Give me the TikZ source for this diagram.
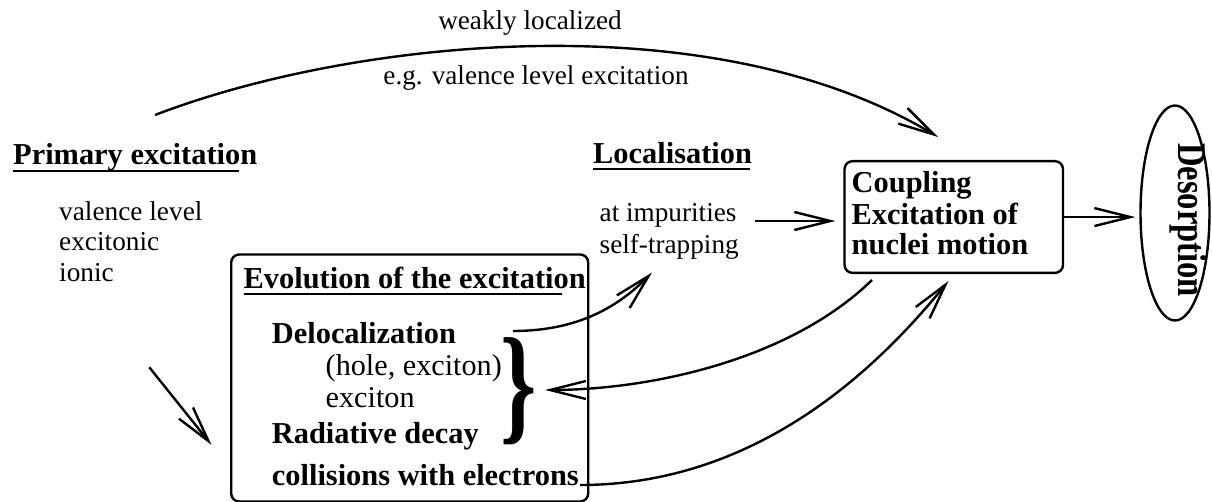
\documentclass[tikz,border=0pt]{standalone}
\usepackage{fontspec}
\setmainfont{Liberation Serif}
\usetikzlibrary{arrows.meta,shapes.geometric}
\newcommand\szH{\fontsize{30.4}{36}\selectfont}
\newcommand\szR{\fontsize{30.2}{36}\selectfont}
\newcommand\szP{\fontsize{27.3}{33}\selectfont}
\newcommand\szL{\fontsize{27.2}{33}\selectfont}
\begin{document}
\begin{tikzpicture}[x=1pt,y=-1pt,
  txt/.style={inner sep=0pt, anchor=base west},
  ctxt/.style={inner sep=0pt, anchor=base},
  uline/.style={line width=1.6pt},
  box/.style={draw, line width=2.4pt, rounded corners=8pt, inner sep=0pt},
  arr/.style={line width=2.4pt, -{Straight Barb[length=36pt,width=18pt]}}]
\useasboundingbox (0,0) rectangle (1212,502);

% texts
\node[txt,font=\szH\bfseries] (prim) at (13,164.5) {Primary excitation};
\draw[uline] ([yshift=-6.5pt]prim.base west) -- ++(226,0);
\node[txt,font=\szP] (pv) at (59,220.5) {valence level};
\node[txt,font=\szP] (pe) at (59,251) {excitonic};
\node[txt,font=\szP] (pi) at (59,282) {ionic};

\node[ctxt,font=\szL] (wl) at (530,30) {weakly localized};
\node[ctxt,font=\szL] (eg) at (536,85) {e.g. valence level excitation};

\node[txt,font=\szH\bfseries] (loc) at (593,164) {Localisation};
\draw[uline] ([yshift=-5pt]loc.base west) -- ++(157,0);
\node[txt,font=\szL] (imp) at (599.5,221.7) {at impurities};
\node[txt,font=\szL] (st) at (599.5,253.3) {self-trapping};

% evolution box
\node[box, minimum width=357pt, minimum height=247pt, anchor=north west] (evo) at (230,253.3) {};
\node[txt,font=\szH\bfseries] (evt) at (243.5,288.5) {Evolution of the excitation};
\draw[uline] ([yshift=-5.5pt]evt.base west) -- ++(318,0);
\node[txt,font=\szH\bfseries] (deloc) at (271.7,343.3) {Delocalization};
\node[txt,font=\szR] (hole) at (325.5,375) {(hole, exciton)};
\node[txt,font=\szR] (exc) at (325.5,407) {exciton};
\node[txt,font=\szH\bfseries] (rad) at (271.7,443.3) {Radiative decay};
\node[txt,font=\szH\bfseries] (coll) at (271.7,485) {collisions with electrons};
\node[inner sep=0pt] (brace) at (519,391) {\scalebox{1.15}[1.62]{\fontsize{80}{80}\selectfont\bfseries\}}};

% coupling box
\node[box, minimum width=218.5pt, minimum height=111.7pt, anchor=north west] (coup) at (843.3,160) {};
\node[txt,font=\szH\bfseries] (c1) at (851.5,192.3) {Coupling};
\node[txt,font=\szH\bfseries] (c2) at (851.5,225) {Excitation of};
\node[txt,font=\szH\bfseries] (c3) at (851.5,254.3) {nuclei motion};

% desorption
\node[draw, ellipse, line width=2.4pt, minimum width=69pt, minimum height=215pt, inner sep=0pt] (deso) at (1175,213) {};
\node[rotate=-90, inner sep=0pt] (desot) at (1188.5,220) {\scalebox{1}[1.25]{\fontsize{32.6}{34}\selectfont\bfseries Desorption}};

% connectors
\coordinate (arcS) at (155,115);
\coordinate (arcE) at (938,137);
\draw[arr] (arcS) .. controls (350,40) and (710,0) .. (arcE);

\coordinate (pS) at (149.3,367.3);
\coordinate (pE) at (211.6,445);
\draw[arr] (pS) -- (pE);

\coordinate (impR) at (755,221);
\draw[arr, shorten >=8pt] (impR) -- (coup.west |- impR);

\draw[arr, shorten >=4pt] (coup.east) -- (deso.west |- coup.east);

\coordinate (dS) at (513,331);
\coordinate (dE) at (652,272.5);
\draw[arr] (dS) .. controls (580,331) and (620,305) .. (dE);

\coordinate (cS) at (872,280);
\coordinate (bE) at (545,390);
\draw[arr] (cS) .. controls (790,360) and (650,390) .. (bE);

\coordinate (colS) at (580,485);
\coordinate (cE) at (948.5,281);
\draw[arr] (colS) .. controls (760,485) and (880,365) .. (cE);
\end{tikzpicture}
\end{document}
